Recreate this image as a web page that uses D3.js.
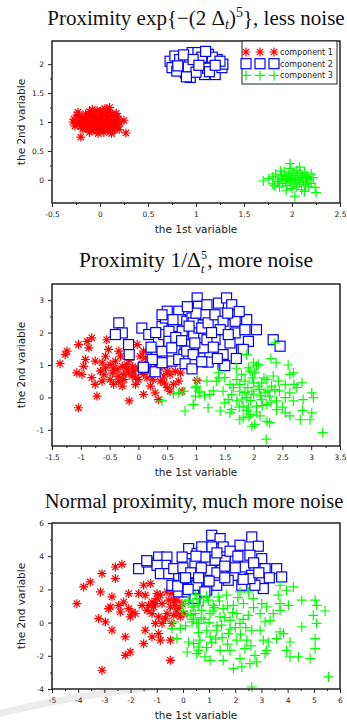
<!DOCTYPE html>
<html>
<head>
<meta charset="utf-8">
<script src="https://cdn.jsdelivr.net/npm/d3@7"></script>
<style>
  html, body { margin: 0; padding: 0; background: #fff; }
  svg { display: block; }
</style>
</head>
<body>
<svg id="chart" width="347" height="725"></svg>
<script>
// ---- data ----
// panel 1: exp proximity, less noise
const p1Red = [[-0.27,1.05],[-0.25,0.98],[-0.22,1.10],[-0.2,1.02],[-0.2,0.92],[-0.18,1.08],[-0.17,0.96],[-0.15,1.14],[-0.15,1.00],[-0.14,0.88],[-0.13,1.05],[-0.12,0.94],[-0.11,1.18],[-0.1,1.09],[-0.1,0.99],[-0.09,0.86],[-0.08,1.03],[-0.07,0.92],[-0.06,1.12],[-0.05,1.06],[-0.05,0.97],[-0.04,0.84],[-0.03,1.20],[-0.02,1.01],[-0.01,0.91],[0,1.10],[0,1.04],[0.01,0.95],[0.02,1.16],[0.02,0.87],[0.03,1.06],[0.04,0.99],[0.05,1.23],[0.05,0.92],[0.06,1.12],[0.07,1.02],[0.08,0.85],[0.08,1.18],[0.09,0.96],[0.1,1.08],[0.1,1.25],[0.11,0.90],[0.12,1.02],[0.13,1.14],[0.14,0.95],[0.15,1.06],[0.15,0.86],[0.16,1.00],[0.17,1.15],[0.18,0.93],[0.19,1.05],[0.25,1.03],[0.27,0.81],[-0.2,0.74],[-0.23,1.17],[-0.08,1.22],[0.12,0.80],[-0.02,0.80],[0.2,0.87],[-0.26,0.93],[-0.24,1.12],[-0.21,0.97],[-0.18,0.88],[-0.16,1.04],[-0.13,0.98],[-0.12,1.12],[-0.09,0.93],[-0.07,1.15],[-0.04,1.08],[-0.03,0.95],[0.0,0.88],[0.01,1.19],[0.03,1.01],[0.06,0.97],[0.07,1.22],[0.09,1.05],[0.11,1.15],[0.13,0.88],[0.14,1.08],[0.16,0.93],[0.04,0.82],[-0.11,0.82],[0.18,1.1],[0.21,0.98],[-0.28,1.0]];
const p1Blue = [[0.73,2.05],[0.75,1.94],[0.78,2.14],[0.85,1.97],[0.89,1.85],[0.90,2.05],[0.96,2.20],[0.99,2.0],[1.02,2.20],[1.04,1.91],[1.08,2.05],[1.09,1.82],[1.13,2.17],[1.15,2.0],[1.20,1.82],[1.22,2.08],[1.27,1.94],[1.28,2.0],[0.94,1.77],[0.80,1.88],[0.83,2.08],[0.92,1.95],[1.0,1.86],[1.06,2.12],[1.12,1.93],[1.17,2.12],[0.87,2.16],[1.25,2.05],[0.97,2.08],[1.03,1.98],[0.81,1.97],[1.14,1.87],[1.2,1.98],[0.9,1.78],[1.1,2.22]];
const p1Green = [[1.7,-0.02],[1.76,0.02],[1.8,0.05],[1.8,-0.07],[1.83,0.1],[1.85,-0.03],[1.86,0.0],[1.87,-0.12],[1.89,0.08],[1.9,0.02],[1.9,-0.06],[1.92,0.14],[1.93,-0.01],[1.94,0.05],[1.95,-0.1],[1.96,0.1],[1.97,0.0],[1.98,-0.04],[1.98,0.2],[1.99,0.07],[2.0,-0.15],[2.0,0.02],[2.01,0.12],[2.02,-0.07],[2.03,0.04],[2.04,-0.01],[2.05,0.16],[2.05,-0.12],[2.06,0.08],[2.07,0.0],[2.08,-0.05],[2.09,0.11],[2.1,0.03],[2.1,-0.17],[2.11,0.07],[2.12,-0.03],[2.13,0.13],[2.14,-0.08],[2.15,0.02],[2.16,0.06],[2.17,-0.12],[2.18,0.0],[2.2,-0.06],[2.22,0.04],[2.24,-0.13],[2.25,-0.22],[2.03,-0.28],[1.98,0.28],[2.08,0.22],[1.82,-0.1],[2.2,0.1],[1.94,-0.18],[2.13,-0.2],[1.88,0.15]];

// panel 2: 1/delta^5 proximity, more noise
const p2Red = [[-0.81,1.84],[-0.89,1.73],[-1.04,1.63],[-0.86,1.53],[-1.24,1.43],[-1.27,1.32],[-1.36,1.04],[-1.07,0.76],[-0.98,0.71],[-0.95,0.96],[-0.92,1.17],[-0.75,1.12],[-0.63,1.07],[-0.55,1.78],[-0.52,1.48],[-0.57,1.27],[-0.66,0.81],[-0.63,0.50],[-0.75,0.40],[-0.72,0.04],[-1.04,-0.32],[-0.49,0.55],[-0.43,0.40],[-0.34,0.50],[-0.28,0.35],[-0.37,0.86],[-0.28,0.96],[-0.31,1.27],[-0.20,1.02],[-0.17,0.76],[-0.11,0.66],[-0.05,0.40],[0.00,0.55],[-0.02,1.63],[0.03,1.27],[0.09,1.43],[0.12,1.22],[0.18,1.43],[0.06,1.02],[0.18,0.91],[0.21,1.12],[0.27,0.76],[0.09,0.09],[0.21,0.35],[0.29,0.14],[0.35,-0.07],[0.38,0.50],[0.44,0.66],[0.50,0.81],[0.41,0.96],[0.53,1.02],[0.55,0.71],[0.64,0.81],[0.73,0.76],[0.50,0.30],[0.55,0.19],[0.61,0.40],[0.70,0.50],[0.76,0.19],[-0.16,-0.11],[-0.08,0.81],[-0.26,0.71],[-0.43,0.91],[-0.49,1.02],[-0.57,0.91],[-0.81,0.61],[-0.34,1.43],[-0.40,1.12],[0.00,0.91],[0.09,0.71],[1.02,0.52],[-0.45,0.75],[-0.35,0.65],[-0.2,0.88],[-0.1,0.95],[0.05,0.85],[0.15,0.6],[-0.05,0.62],[-0.25,0.55],[0.3,0.95],[0.25,0.55],[-0.6,0.7],[-0.15,1.15],[0.35,0.85],[0.45,0.45]];
const p2Blue = [[-0.34,2.30],[-0.28,1.99],[-0.40,1.94],[-0.17,1.63],[-0.16,1.32],[0.06,2.14],[0.18,1.94],[0.09,0.91],[0.29,0.79],[0.32,1.43],[0.41,1.43],[0.35,1.73],[0.41,2.19],[0.47,2.45],[0.50,2.66],[0.44,1.94],[0.53,1.73],[0.58,1.53],[0.61,2.19],[0.70,2.66],[0.73,2.40],[0.76,2.04],[0.81,1.63],[0.79,1.32],[0.84,2.35],[0.93,2.45],[0.96,1.94],[0.96,1.32],[0.93,1.02],[1.02,3.07],[1.02,2.81],[1.05,2.55],[1.05,2.14],[1.05,1.53],[0.58,1.12],[0.41,1.07],[0.70,1.17],[0.24,1.17],[0.84,1.43],[0.53,2.04],[0.41,2.55],[1.04,2.81],[1.19,2.86],[1.16,2.55],[0.95,2.30],[1.10,2.14],[1.21,2.30],[1.33,2.55],[1.39,2.91],[1.53,3.07],[1.62,2.86],[1.65,2.55],[1.47,2.35],[1.42,2.09],[1.68,2.35],[1.68,1.99],[1.59,1.68],[1.88,2.40],[1.85,2.09],[2.05,2.09],[1.91,1.73],[1.79,1.48],[1.47,1.32],[1.47,1.02],[1.24,1.27],[1.13,1.53],[0.98,1.68],[0.95,1.32],[2.34,1.78],[2.46,1.58],[1.33,1.78],[1.19,1.78],[1.56,1.94],[1.82,1.48],[0.085,0.93],[1.21,1.09],[1.50,0.98],[0.81,1.04],[0.93,0.88],[0.65,1.85],[0.75,1.75],[0.88,2.2],[1.27,2.0],[1.3,1.55],[1.0,2.6],[0.6,2.4],[1.37,1.2],[1.55,2.6],[1.75,2.65],[0.3,2.0],[0.22,1.55],[0.85,2.8],[1.1,1.1],[1.7,1.2]];
const p2Green = [[1.02,0.55],[0.99,0.30],[1.05,0.19],[0.99,0.04],[0.96,-0.22],[0.81,-0.42],[0.79,0.19],[0.70,0.14],[0.41,-0.11],[0.61,0.11],[2.37,1.68],[1.88,1.32],[2.39,1.07],[2.05,0.97],[1.91,0.91],[1.39,0.76],[1.50,0.61],[1.36,0.50],[1.19,0.50],[1.01,0.35],[1.07,0.14],[1.24,0.09],[0.95,-0.22],[1.21,-0.32],[1.42,-0.42],[1.59,-0.48],[1.76,-0.69],[1.97,-0.89],[2.28,-0.78],[2.63,-0.57],[2.81,-0.69],[2.98,-0.69],[3.01,-0.48],[3.04,-0.01],[3.01,0.14],[2.86,-0.07],[2.63,0.14],[2.63,0.71],[2.69,0.76],[2.84,0.45],[2.55,0.40],[2.43,0.50],[2.34,0.66],[2.37,0.24],[2.23,-0.22],[2.40,-0.38],[2.55,-0.48],[2.23,-0.74],[2.11,-0.57],[2.02,-0.83],[1.82,-0.63],[1.62,-0.38],[1.50,-0.17],[1.71,-0.11],[1.76,0.19],[1.76,0.40],[1.79,0.71],[1.94,0.81],[2.02,0.76],[2.08,1.02],[2.00,1.07],[2.14,0.45],[2.20,0.14],[1.97,0.19],[1.88,-0.01],[1.91,-0.32],[2.05,-0.27],[2.14,-0.07],[2.28,0.04],[2.31,0.35],[2.23,0.55],[1.85,0.50],[1.71,0.55],[1.59,0.40],[1.62,0.09],[1.47,0.19],[1.56,-0.07],[1.82,-0.27],[1.94,-0.53],[2.40,-0.11],[2.55,-0.01],[2.69,-0.11],[2.75,0.30],[3.20,-1.09],[2.22,-1.29],[1.9,0.3],[2.0,0.1],[2.1,0.25],[1.95,-0.1],[2.05,-0.45],[1.85,0.15],[2.15,-0.25],[1.98,0.6],[2.08,0.35],[1.8,-0.05],[2.25,0.2],[1.92,-0.6],[2.12,0.05],[1.88,-0.4],[2.0,0.45],[2.18,0.6],[1.75,-0.3],[2.3,-0.15],[2.45,0.2],[1.65,0.3],[2.5,-0.3],[2.7,0.4],[2.85,-0.4],[2.6,1.0],[2.3,1.2],[1.7,0.9],[1.3,0.2],[1.15,0.05],[1.4,0.6]];

// panel 3: normal proximity, much more noise
const p3Red = [[-4.05,1.14],[-3.79,2.15],[-3.54,2.45],[-3.15,1.85],[-3.09,2.95],[-2.58,3.35],[-2.33,3.51],[-2.58,2.65],[-2.71,1.55],[-2.77,0.94],[-3.22,0.24],[-2.96,0.04],[-2.71,-0.46],[-2.01,0.34],[-2.07,0.84],[-2.26,1.24],[-2.07,1.75],[-2.45,1.04],[-2.84,0.84],[-1.94,0.64],[-1.82,0.54],[-1.69,1.75],[-1.50,2.25],[-1.24,2.35],[-1.44,1.65],[-1.56,1.04],[-1.31,1.04],[-1.37,0.74],[-1.18,0.54],[-1.12,0.94],[-0.99,1.75],[-0.99,1.45],[-0.86,1.65],[-0.80,1.14],[-0.93,0.34],[-1.05,-0.05],[-0.80,-0.05],[-1.44,-0.46],[-1.18,-0.86],[-0.93,-0.66],[-0.86,-1.06],[-1.50,-1.27],[-2.20,-0.86],[-2.20,-1.97],[-2.01,-1.77],[-3.09,-2.87],[-0.48,-2.27],[-0.48,-1.06],[-0.42,-0.05],[-0.61,0.54],[-0.48,0.94],[-0.54,1.35],[-0.67,0.24],[-0.35,0.44],[-0.23,0.64],[-0.10,0.34],[-0.29,1.04],[0.03,0.54],[-0.16,0.84],[-1.18,1.24],[-1.05,1.14],[-0.61,1.85],[-0.42,1.75],[-0.35,1.35],[-0.23,1.35],[-0.04,1.14],[-2.39,0.64]];
const p3Blue = [[-1.69,3.25],[-1.37,3.65],[-0.93,3.95],[-0.61,3.95],[-0.67,3.45],[-0.99,3.45],[-0.86,2.95],[-0.54,2.95],[-0.16,2.75],[0.16,3.55],[0.22,4.46],[0.54,4.16],[-0.03,3.95],[-0.42,2.25],[-0.16,1.85],[0.16,1.85],[0.41,1.65],[0.28,2.35],[0.60,2.25],[0.54,3.15],[-0.35,3.25],[0.35,2.95],[0.03,2.65],[1.10,5.26],[1.42,5.06],[1.10,4.56],[1.54,4.56],[0.72,4.56],[2.18,4.66],[2.63,5.16],[2.88,4.60],[3.01,3.85],[2.56,4.06],[1.99,3.85],[1.61,3.75],[1.23,3.75],[0.84,3.95],[0.46,3.55],[1.04,3.15],[1.48,3.15],[1.93,2.85],[2.37,3.35],[2.63,2.85],[3.14,3.25],[3.58,3.25],[3.77,2.75],[3.07,2.05],[2.75,2.25],[2.25,2.25],[1.73,2.55],[1.29,2.25],[0.91,1.95],[0.53,2.25],[0.46,1.45],[0.84,1.85],[2.56,2.65],[-1.38,3.73],[0.0,3.3],[0.3,3.0],[0.7,3.3],[1.3,3.0],[1.6,2.7],[2.0,3.3],[2.3,2.6],[2.7,3.6],[3.3,2.7],[1.0,2.5],[0.6,2.7],[1.8,4.3],[0.5,4.0],[1.3,4.2],[2.1,4.0],[-0.2,2.2],[0.2,2.0],[1.6,3.4],[2.9,3.0],[0.1,2.7]];
const p3Green = [[0.09,1.14],[0.35,0.94],[0.60,1.04],[0.16,0.44],[0.47,0.54],[0.35,0.04],[0.60,-0.05],[-0.35,0.04],[-0.42,-0.36],[-0.10,-0.36],[-0.23,-0.97],[0.22,-1.17],[0.60,-1.47],[0.16,-1.77],[0.60,-1.67],[-0.04,1.14],[0.22,1.35],[0.54,1.45],[3.71,2.25],[4.22,2.15],[4.54,1.35],[5.05,1.35],[5.11,1.04],[5.43,0.70],[4.98,0.44],[5.11,-0.05],[4.54,-0.25],[5.05,-0.97],[5.05,-1.57],[4.86,-2.17],[4.41,-2.07],[4.09,-2.07],[3.96,-1.67],[4.09,-1.17],[3.84,-0.66],[3.71,-0.56],[3.58,-0.97],[3.26,-1.17],[3.07,-1.06],[4.03,1.04],[3.71,1.14],[3.64,1.65],[3.71,0.74],[3.20,0.94],[2.95,0.54],[3.14,0.04],[3.33,0.14],[2.95,-0.46],[3.20,-1.67],[3.14,-1.87],[2.82,-2.37],[2.75,-1.97],[2.56,-2.47],[2.25,-2.67],[1.93,-2.77],[1.54,-2.27],[1.04,-2.27],[0.84,-2.07],[0.53,-1.87],[0.41,-1.27],[0.65,-1.06],[1.04,-0.86],[1.42,-1.67],[1.80,-1.67],[2.18,-2.17],[2.37,-1.57],[2.44,-1.06],[2.06,-1.06],[1.74,-0.66],[1.29,-0.46],[0.91,-0.46],[0.53,-0.05],[2.63,-0.46],[2.18,-0.05],[1.80,0.14],[1.42,0.34],[1.04,0.54],[0.72,0.74],[0.41,0.94],[1.54,0.84],[1.93,1.04],[2.31,1.14],[2.69,1.45],[3.01,1.14],[2.50,1.85],[1.35,1.55],[1.16,1.04],[0.78,1.24],[1.67,1.65],[5.56,-3.27],[2.63,-3.88],[2.18,1.85],[0.97,1.35],[2.06,0.54],[2.50,0.44],[1.48,-0.15],[3.45,0.54],[3.96,1.95],[0.3,0.5],[0.8,0.2],[1.2,0.9],[1.6,0.3],[2.0,-0.3],[0.6,-0.6],[1.1,-1.2],[1.5,-0.9],[1.9,0.6],[2.3,0.2],[0.2,1.3],[0.9,1.6],[1.4,1.3],[2.2,-0.7],[1.7,-1.3],[0.5,1.7],[2.7,0.9],[1.0,0.0],[0.1,-0.2],[0.7,0.3],[1.3,-0.2],[1.8,-0.4],[2.4,-0.3],[0.4,0.2],[1.15,0.7],[1.7,1.0],[2.1,1.5],[0.9,-1.5],[2.6,-1.4],[1.25,-1.0],[0.0,0.7]];

// axis ticks
const p1XTicks = [-0.5, 0, 0.5, 1, 1.5, 2, 2.5];
const p1YTicks = [0, 0.5, 1, 1.5, 2];
const p2XTicks = [-1.5, -1, -0.5, 0, 0.5, 1, 1.5, 2, 2.5, 3, 3.5];
const p2YTicks = [-1, 0, 1, 2, 3];
const p3XTicks = [-5, -4, -3, -2, -1, 0, 1, 2, 3, 4, 5, 6];
const p3YTicks = [-4, -2, 0, 2, 4, 6];

const legendNames = ["component 1", "component 2", "component 3"];
const xLabel = "the 1st variable";
const yLabel = "the 2nd variable";

// ---- drawing ----
const svg = d3.select("#chart");
const RED = "#ff0000", BLUE = "#0000ff", GREEN = "#00ff00";

// faint page swoosh at the bottom left
svg.append("path")
  .attr("d", "M-10,716 Q90,690 200,684")
  .attr("fill", "none")
  .attr("stroke", "#ececec")
  .attr("stroke-width", 7);

const starPath = "M-4.5,0H4.5M0,-4.5V4.5M-3.2,-3.2L3.2,3.2M-3.2,3.2L3.2,-3.2";
const plusPath = "M-5,0H5M0,-5V5";

function drawMarks(g, pts, kind, x, y) {
  const sel = g.append("g").selectAll("g").data(pts).enter().append("g")
    .attr("transform", d => `translate(${x(d[0])},${y(d[1])})`);
  if (kind === "star") {
    sel.append("path").attr("d", starPath).attr("stroke", RED).attr("stroke-width", 1.2).attr("fill", "none");
  } else if (kind === "square") {
    sel.append("rect").attr("x", -5).attr("y", -5).attr("width", 10).attr("height", 10)
      .attr("fill", "#fff").attr("stroke", BLUE).attr("stroke-width", 1.2);
  } else {
    sel.append("path").attr("d", plusPath).attr("stroke", GREEN).attr("stroke-width", 1.2).attr("fill", "none");
  }
}

function panel(cfg) {
  const left = 52, right = 340;
  const x = d3.scaleLinear().domain(cfg.xDomain).range([left, right]);
  const y = d3.scaleLinear().domain(cfg.yDomain).range([cfg.bottom, cfg.top]);
  const g = svg.append("g");

  g.append("rect").attr("x", left).attr("y", cfg.top)
    .attr("width", right - left).attr("height", cfg.bottom - cfg.top).attr("fill", "#fff");

  // minor ticks at midpoints
  const mid = arr => arr.slice(1).map((v, i) => (v + arr[i]) / 2);

  const xAxis = d3.axisBottom(x).tickValues(cfg.xTicks).tickFormat(d => String(d)).tickSize(4).tickPadding(5);
  const yAxis = d3.axisLeft(y).tickValues(cfg.yTicks).tickFormat(d => String(d)).tickSize(4).tickPadding(4);
  const gx = g.append("g").attr("transform", `translate(0,${cfg.bottom})`).call(xAxis);
  const gy = g.append("g").attr("transform", `translate(${left},0)`).call(yAxis);
  g.append("g").attr("transform", `translate(0,${cfg.bottom})`)
    .call(d3.axisBottom(x).tickValues(mid(cfg.xTicks)).tickFormat("").tickSize(2));
  g.append("g").attr("transform", `translate(${left},0)`)
    .call(d3.axisLeft(y).tickValues(mid(cfg.yTicks)).tickFormat("").tickSize(2));
  g.selectAll(".domain").remove();
  g.selectAll(".tick line").attr("stroke", "#222");
  [gx, gy].forEach(a => a.selectAll("text")
    .attr("font-family", "DejaVu Sans, sans-serif").attr("font-size", 7.5).attr("fill", "#222"));

  drawMarks(g, cfg.red, "star", x, y);
  drawMarks(g, cfg.blue, "square", x, y);
  drawMarks(g, cfg.green, "plus", x, y);

  g.append("rect").attr("x", left).attr("y", cfg.top)
    .attr("width", right - left).attr("height", cfg.bottom - cfg.top)
    .attr("fill", "none").attr("stroke", "#222").attr("stroke-width", 1.5);

  // titles
  const t = g.append("text").attr("x", cfg.titleX || (left + right) / 2).attr("y", cfg.titleY)
    .attr("text-anchor", "middle").attr("font-family", "Liberation Serif, serif")
    .attr("font-size", cfg.titleSize || 21).attr("fill", "#111");
  cfg.title.forEach(p => {
    const s = t.append("tspan").text(p.t);
    if (p.dy) s.attr("dy", p.dy);
    if (p.dx) s.attr("dx", p.dx);
    if (p.size) s.attr("font-size", p.size);
    if (p.italic) s.attr("font-style", "italic");
  });

  g.append("text").attr("x", (left + right) / 2).attr("y", cfg.bottom + 30)
    .attr("text-anchor", "middle").attr("font-family", "DejaVu Sans, sans-serif")
    .attr("font-size", 10.5).attr("fill", "#222").text(xLabel);
  g.append("text")
    .attr("transform", `translate(25,${(cfg.top + cfg.bottom) / 2}) rotate(-90)`)
    .attr("text-anchor", "middle").attr("font-family", "DejaVu Sans, sans-serif")
    .attr("font-size", 10.5).attr("fill", "#222").text(yLabel);

  if (cfg.legend) {
    const lg = g.append("g");
    lg.append("rect").attr("x", 242).attr("y", cfg.top).attr("width", 95).attr("height", 43)
      .attr("fill", "#fff").attr("stroke", "#222").attr("stroke-width", 1);
    const kinds = ["star", "square", "plus"];
    kinds.forEach((k, i) => {
      const yy = cfg.top + 11 + i * 11.7;
      const pts = [246, 260, 274].map(px => [x.invert(px), y.invert(yy)]);
      drawMarks(lg, pts, k, x, y);
      lg.append("text").attr("x", 280).attr("y", yy + 2.8)
        .attr("font-family", "DejaVu Sans, sans-serif").attr("font-size", 8)
        .attr("fill", "#222").text(legendNames[i]);
    });
  }
}

panel({
  top: 41, bottom: 203, xDomain: [-0.5, 2.5], yDomain: [-0.4, 2.4],
  xTicks: p1XTicks, yTicks: p1YTicks, red: p1Red, blue: p1Blue, green: p1Green,
  titleY: 25, legend: true,
  title: [{t: "Proximity exp{\u2212(2 \u0394"}, {t: "t", italic: true, dy: 4, size: 14},
          {t: ")", dy: -4}, {t: "5", dy: -8, size: 14}, {t: "}, less noise", dy: 8}]
});
panel({
  top: 284, bottom: 446, xDomain: [-1.5, 3.5], yDomain: [-1.5, 3.5],
  xTicks: p2XTicks, yTicks: p2YTicks, red: p2Red, blue: p2Blue, green: p2Green,
  titleY: 267, titleSize: 21.5,
  title: [{t: "Proximity 1/\u0394"}, {t: "5", dy: -8, size: 12}, {t: "t", italic: true, dy: 14, dx: -6, size: 12},
          {t: ", more noise", dy: -6, dx: 3}]
});
panel({
  top: 523, bottom: 689, xDomain: [-5, 6], yDomain: [-4, 6],
  xTicks: p3XTicks, yTicks: p3YTicks, red: p3Red, blue: p3Blue, green: p3Green,
  titleY: 508, titleX: 194, titleSize: 20.5,
  title: [{t: "Normal proximity, much more noise"}]
});
</script>
</body>
</html>
